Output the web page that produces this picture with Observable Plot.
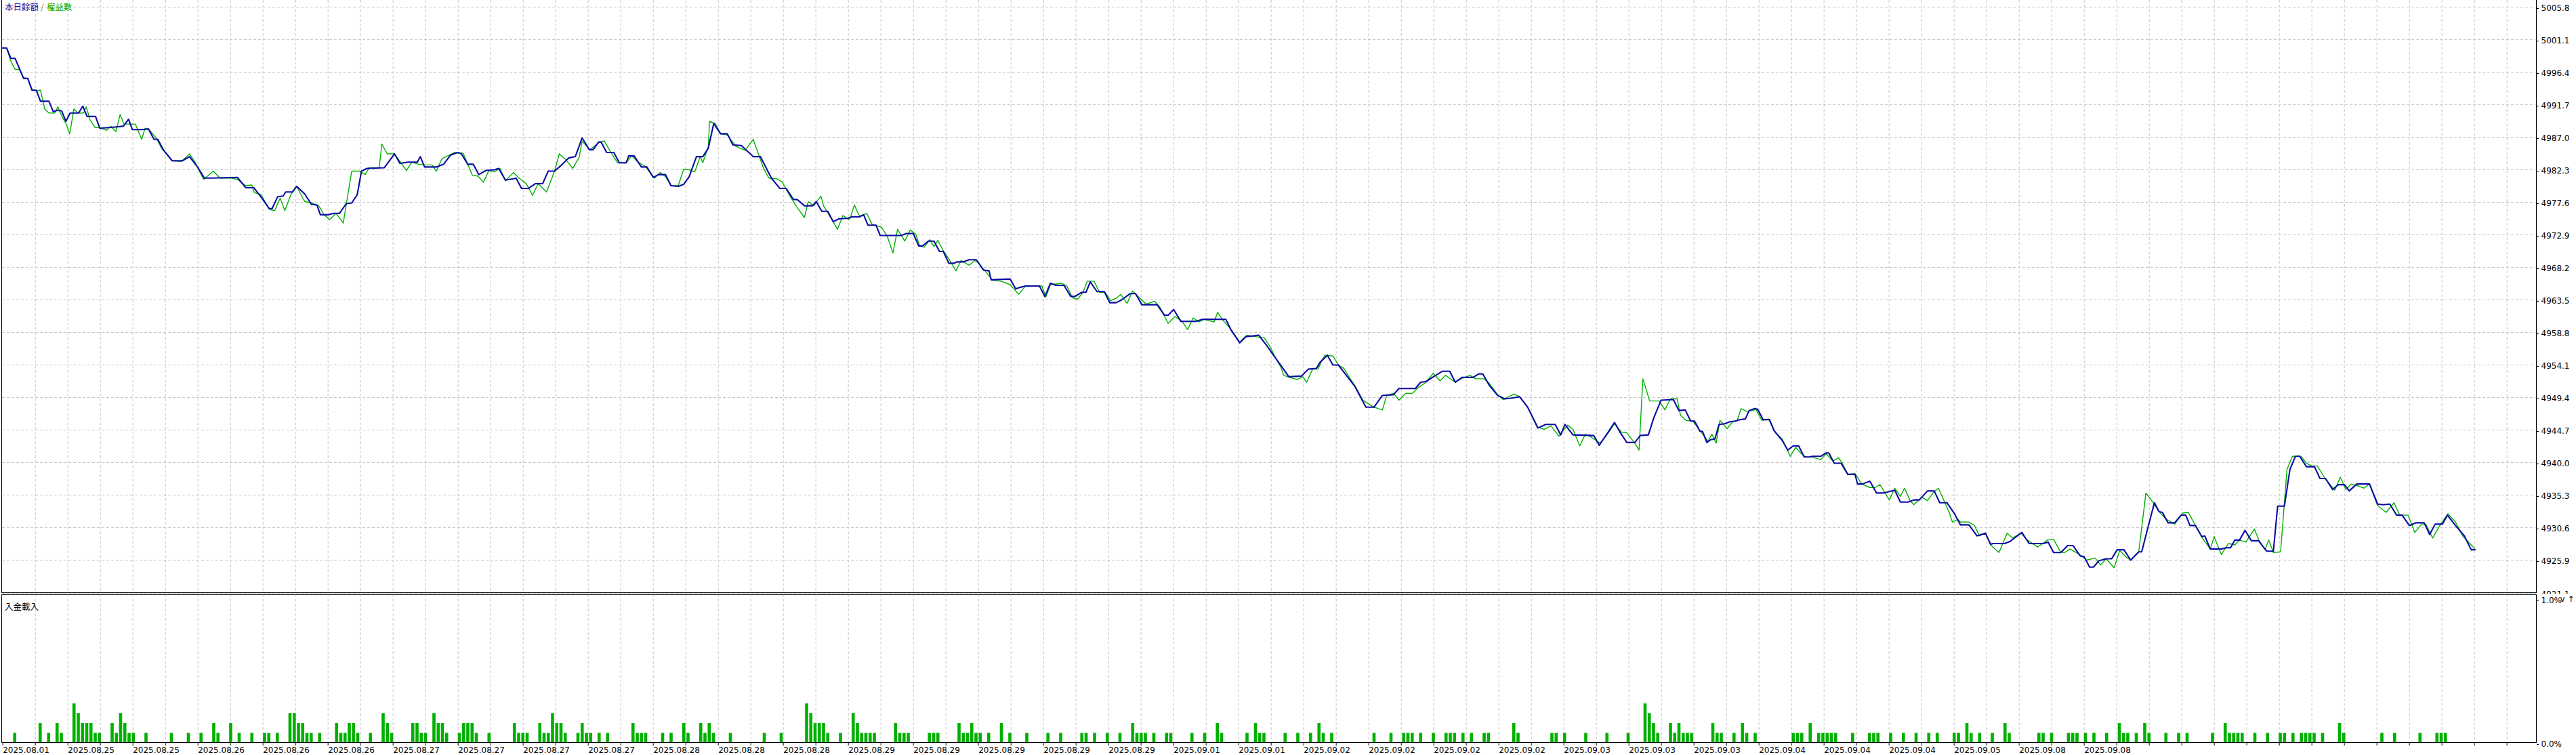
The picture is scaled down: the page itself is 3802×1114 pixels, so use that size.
<!DOCTYPE html>
<html><head><meta charset="utf-8">
<script src="https://cdn.jsdelivr.net/npm/d3@7"></script>
<script src="https://cdn.jsdelivr.net/npm/@observablehq/plot@0.6"></script>
<style>
body{margin:0;background:#fff;}
#wrap{position:relative;width:3802px;height:1114px;overflow:hidden;font-family:"DejaVu Sans",sans-serif;}
#wrap svg{display:block;}
.panel{position:absolute;box-sizing:border-box;border:1px solid #000;pointer-events:none;}
.lbl{position:absolute;white-space:nowrap;font-family:"Noto Sans CJK TC","Noto Sans CJK SC",sans-serif;font-size:12.5px;line-height:14px;height:14px;}
.lbl span{display:inline-block;line-height:14px;height:14px;vertical-align:top;}
</style></head><body>
<div id="wrap"></div>
<script>
// ---- data (trade index, value) ----
const balance = [
[0,4999.9],[1,4999.9],[2,4998.4],[3,4998.4],[5,4995.5],[6,4995.5],[7,4993.8],[8,4993.8],[9,4992.2],[11,4992.2],
[12,4990.7],[13,4990.9],[14,4990.8],[15,4989.3],[16,4990.5],[18,4990.5],[19,4991.5],[20,4990],[22,4990],[23,4988.3],
[25,4988.4],[27,4988.5],[28.6,4988.6],[29.8,4989.6],[30.7,4988.1],[32.9,4988.1],[34.5,4988.2],[35.8,4986.7],[36.7,4986.7],[38.1,4985.1],
[40.1,4983.6],[42.5,4983.6],[44.2,4984.2],[46.2,4982.6],[47.7,4981.1],[49.4,4981.1],[55.5,4981.2],[57.5,4979.7],[59.4,4979.7],[61.3,4978.2],
[63,4976.7],[63.7,4976.7],[65,4978.4],[66.3,4978.5],[66.9,4979.1],[68.5,4979.1],[69.5,4979.9],[71.4,4978.8],[73,4977.3],[74.3,4977.2],
[75.1,4975.8],[76.9,4975.8],[78.3,4976],[79.6,4976],[81.2,4977.4],[82.5,4977.5],[83.8,4978.7],[84.8,4982.1],[86.1,4982.5],[90.2,4982.6],
[92.6,4984.6],[93.9,4983.2],[95.7,4983.4],[98,4983.4],[98.7,4984.2],[99.7,4982.7],[102.5,4982.7],[104.2,4983.1],[105.8,4984.4],[107.5,4984.8],
[108.4,4984.6],[109.9,4983.1],[111.2,4983.1],[112.5,4981.6],[114.2,4982.2],[116.2,4982.3],[117.2,4982.5],[118.8,4980.8],[120.7,4981],[121.3,4981.1],
[122.6,4979.6],[124.2,4979.6],[125.9,4980.3],[127.6,4980.3],[128.9,4982.1],[130.4,4982.1],[131.7,4982.8],[133.7,4984],[135.3,4984.2],[136.9,4986.9],
[138.6,4985.2],[139.5,4985.2],[140.8,4986.3],[141.4,4986.3],[142.7,4984.8],[144.4,4984.8],[145.7,4983.3],[147.3,4983.3],[147.9,4984.3],[149.2,4984.3],
[150.9,4982.7],[152.2,4982.7],[153.7,4981.2],[155,4981.6],[156.6,4981.6],[157.9,4980],[159.6,4979.9],[160.9,4980.2],[162.2,4981.3],[163.9,4984.2],
[165.4,4984.2],[166.7,4985.4],[168,4989],[169.6,4987.5],[171.2,4987.5],[172.5,4985.9],[174.5,4985.8],[177.3,4984.2],[179,4984.2],[181.6,4981.1],
[183.6,4979.6],[185.1,4979.6],[186.8,4978],[187.7,4978],[189.4,4977.1],[191.3,4977.1],[192.2,4977.7],[193.5,4976.3],[194.9,4976.3],[196.2,4974.8],
[197.5,4975.2],[199.7,4975.3],[200.6,4975.5],[202.4,4975.5],[203.4,4975.8],[204.4,4974.3],[206.3,4974.3],[207.3,4972.8],[212.2,4972.8],[213.5,4973.1],
[215.1,4973.1],[216.4,4971.3],[217.3,4971.3],[218.7,4972],[220,4972],[221.3,4970.5],[222.2,4970.5],[223.5,4968.8],[224.8,4968.8],[225.4,4969],
[227,4969],[228.3,4969.3],[230,4969.3],[231.7,4967.8],[233,4967.7],[233.5,4966.4],[237.1,4966.5],[238,4966.5],[239.3,4965.1],[240.3,4965.3],
[241.6,4965.5],[244.9,4965.5],[246.2,4964],[247.5,4965.9],[248.8,4965.6],[250.7,4965.6],[252.3,4964],[253.3,4964],[254.9,4964.6],[255.9,4964.6],
[256.9,4966.1],[258.5,4964.7],[260.2,4964.7],[261.5,4963.1],[263,4963.1],[264.3,4963.5],[266.3,4964.4],[267.6,4964.4],[269.1,4962.8],[272.7,4962.8],
[274.4,4961.3],[275.3,4961.3],[276.6,4962.1],[278.3,4960.4],[281.8,4960.4],[283.5,4960.7],[288.9,4960.7],[290.2,4959.1],[292.2,4957.3],[293.7,4958.2],
[295.4,4958.3],[296.7,4958.4],[298.7,4956.8],[300.4,4955.3],[302.2,4953.8],[303.8,4952.4],[306.8,4952.5],[308.4,4953.5],[310.3,4953.6],[311.2,4954.5],
[312.9,4955.5],[314.2,4954.1],[315.5,4954.1],[317.5,4952.5],[319.4,4951],[322,4948],[323.9,4948],[325.9,4949.7],[328.5,4949.8],[329.8,4950.7],
[333.7,4950.7],[334.9,4951.6],[336.2,4951.7],[338.2,4952.5],[340.1,4953.2],[341.8,4953.2],[343.1,4951.6],[344.7,4952.3],[347.3,4952.3],[348.6,4952.8],
[349.6,4952.8],[351.2,4951.1],[353.1,4949.7],[354.8,4949.2],[356.3,4949.3],[358.3,4949.5],[360.2,4948],[362.6,4945],[364.5,4945.5],[366.7,4945.5],
[368,4944],[369,4945.5],[370.9,4944],[375.8,4943.9],[377.1,4942.5],[379,4944.2],[380.7,4945.8],[382,4944.4],[383.6,4942.9],[385.5,4942.9],
[386.8,4943.9],[388.7,4944],[390,4946.5],[391.7,4949],[394.6,4949.1],[395.9,4947.5],[397.4,4947.6],[398.7,4946],[399.6,4946],[400.9,4944.5],
[401.5,4944.5],[402.5,4942.9],[403.4,4943.3],[404.4,4943.4],[405.4,4945.5],[406.7,4945.6],[408,4945.9],[409.3,4946],[410.3,4946.2],[411.6,4946.3],
[412.5,4947.5],[413.8,4947.8],[414.5,4947.7],[415.8,4946.2],[417.3,4946.2],[418.4,4944.6],[420.3,4943.2],[421.6,4941.8],[422.9,4942.4],[424.2,4942.4],
[425.5,4940.8],[426.8,4940.8],[427.4,4940.9],[429.4,4940.9],[430.7,4941.4],[431.3,4941.4],[432.6,4939.9],[434.2,4939.9],[435.8,4938.3],[437.5,4938.3],
[438.1,4936.9],[439.3,4936.9],[441,4937.3],[442.6,4935.6],[444.3,4935.6],[446.2,4935.9],[446.9,4936],[448.2,4934.3],[450.1,4934.3],[451.4,4934.6],
[452.7,4934.6],[454.6,4935.9],[456.2,4935.9],[457.5,4934.2],[459.2,4934.2],[460.9,4932.7],[462.4,4931],[464.4,4931],[466.3,4929.4],[468.3,4929.8],
[469.5,4928.2],[470.2,4928.3],[472.8,4928.3],[474.1,4928.6],[475.6,4929.3],[476.9,4929.9],[478.6,4928.3],[481.9,4928.3],[483.1,4928.5],[484.4,4927],
[486.1,4927],[487.7,4928],[489,4928],[490.7,4926.5],[491.6,4926.4],[492.9,4924.9],[493.8,4924.9],[495.1,4925.8],[496.8,4926.1],[498.1,4926.1],
[499.4,4927.4],[501,4927.4],[502.6,4925.9],[504.5,4927.1],[505.2,4927.1],[506.5,4930.2],[508.2,4934.2],[509.3,4932.9],[510.1,4932.8],[511.4,4931.3],
[513,4931.3],[514.5,4932.4],[515.6,4932.4],[516.6,4930.9],[517.9,4930.9],[519.4,4929.3],[520.1,4929.4],[521.4,4927.5],[524,4927.5],[525.3,4927.7],
[526.2,4927.7],[527.2,4928.8],[528.3,4928.8],[529.6,4930.2],[531.1,4928.7],[532.8,4928.7],[534.7,4927.2],[536.3,4927.2],[537.3,4933.7],[538.9,4933.7],
[540.2,4939],[541.5,4940.9],[542.5,4940.9],[544.1,4939.4],[546,4939.4],[547.3,4937.7],[548.6,4937.7],[550.3,4936.1],[551.6,4936.8],[553.1,4936.8],
[554.2,4935.9],[556,4936.9],[559,4936.9],[560.9,4934],[562.2,4933.9],[563.8,4934],[565.4,4932.4],[566.7,4932.4],[568.4,4930.9],[570,4931.3],
[571.9,4931.3],[573.2,4929.6],[574.5,4931.1],[576.2,4931.1],[577.4,4932.4],[579.3,4930.9],[581.4,4929.4],[583,4927.4],[583.9,4927.4]
];
const equity = [
[0,4999.9],[1,4999.9],[2,4998],[3,4996.8],[4,4996.8],[5,4995.6],[6,4995.5],[7,4993.9],[8,4993.7],[9,4993.8],
[10,4991.1],[11,4990.5],[12.4,4990.5],[13.1,4991.4],[14,4990.1],[15,4989],[15.9,4987.5],[16.9,4991.1],[17.8,4990.5],[19.2,4990.5],
[19.8,4991.4],[20.7,4989.5],[21.9,4988.4],[23,4988.4],[24.6,4988],[25.6,4988.6],[26.8,4987.8],[27.8,4990.3],[28.7,4988.9],[31.4,4988.9],
[32.9,4986.7],[33.7,4988.3],[34.5,4988.2],[36.3,4986.9],[37.7,4985.3],[38.1,4985.1],[40.1,4983.6],[42.3,4983.5],[44.2,4984.6],[45.5,4983.4],
[47.5,4980.9],[49.8,4982.1],[51.4,4981.1],[54,4981.1],[55.5,4980.9],[57.5,4980],[58.9,4980.1],[59.5,4979],[61.1,4978.7],[63,4976.6],
[64.3,4976.4],[65.6,4978.2],[66.7,4976.4],[68.2,4978.8],[69.5,4979.9],[71.4,4977.7],[73,4977.5],[74.7,4977.1],[76,4975.8],[77.3,4975.1],
[78.8,4976],[80.5,4974.6],[82.5,4982.1],[84.4,4982.1],[85.7,4981.6],[86.6,4982.6],[89,4982.6],[89.6,4986],[90.9,4984.6],[92.6,4984.6],
[95.4,4982.2],[96.7,4983.4],[98.3,4983.1],[99.9,4983],[101.5,4983],[102.5,4982.1],[103.8,4983.9],[105.1,4984.3],[106.8,4984.8],[108.8,4984.7],
[111,4981.5],[112.3,4981.4],[113.6,4980.5],[114.9,4982.2],[116.2,4982],[117.5,4982.5],[118.8,4980.7],[120.7,4981.9],[122,4981.1],[123.7,4980.3],
[125.2,4978.6],[126.5,4980.3],[128.5,4979.1],[130.4,4982.1],[131.5,4984.6],[133,4983.8],[134.7,4982.5],[136.2,4984.1],[136.9,4986.4],[138.8,4985.2],
[140.8,4986.2],[142.1,4986.5],[143.6,4984.9],[145.3,4983.3],[147.3,4983.3],[148.6,4984.3],[150.1,4983.4],[151.8,4982.8],[154,4981.1],[155.3,4981.9],
[156.6,4981.3],[157.9,4980],[159.6,4980],[160.9,4982.4],[162.2,4982.3],[163.5,4982],[164.8,4984.2],[165.4,4983.3],[166.7,4985.6],[167,4989.3],
[168.3,4989],[169.6,4987.5],[171.2,4987.3],[173.2,4985.7],[175.4,4985.1],[177.3,4986.7],[179.7,4982.6],[181,4981.1],[182.9,4981],[184.2,4980.5],
[185.8,4978.7],[187.4,4977.1],[189.4,4975.4],[190.3,4977.7],[191.6,4977.1],[193.3,4978.5],[193.9,4977.1],[195.9,4975.1],[197.2,4973.7],[198.5,4975.7],
[199.8,4975.1],[200.2,4975.3],[201.2,4977.2],[202.4,4975.6],[204.1,4976],[205.4,4974.4],[207.6,4974],[208.9,4972.8],[210.3,4970.3],[211.4,4973.7],
[213.1,4972],[214.4,4973.6],[215.7,4973],[216.6,4971.3],[217.7,4971.1],[219,4972.2],[220,4971.2],[220.9,4972.1],[222.2,4970.6],[223.5,4969.4],
[225.2,4967.7],[226.4,4969.2],[228.3,4968.5],[229.6,4969.2],[230.6,4968.8],[231.9,4967.8],[233.9,4966.3],[235.8,4966.2],[238,4965.7],[240,4964.3],
[241.6,4965.5],[245.5,4965.5],[246.4,4963.9],[247.5,4965.7],[250.1,4965.9],[251.4,4965.5],[252.7,4963.8],[253.9,4963.6],[255.2,4964.6],[256.2,4966.2],
[257.8,4966.2],[259.1,4964.6],[260.4,4964.6],[261.7,4963.4],[263,4963.7],[264.1,4964.3],[265.6,4963],[266.9,4964.8],[268.2,4964],[270.1,4962.9],
[272.1,4963.3],[273.4,4962.4],[275.3,4960.1],[276.9,4961.1],[278.6,4960.4],[279.9,4959.2],[281.2,4960.9],[282.5,4960.3],[283.8,4960.7],[286.1,4960.3],
[287,4961.7],[288.3,4960.5],[290.2,4959.2],[292.2,4957.4],[293.9,4958.4],[298,4958],[299.3,4956.8],[300.6,4955.2],[301.9,4953.8],[302.6,4952.6],
[304.5,4952.2],[305.8,4952],[307.1,4952.4],[308,4951.6],[309.4,4953.5],[310.7,4953.5],[311.7,4954.9],[312.3,4955.5],[314.2,4955.4],[315.5,4954.1],
[316.8,4953.6],[318.1,4952.3],[319.4,4951.1],[321.3,4949],[323.9,4948],[325.9,4947.6],[326.9,4949.7],[328.5,4950],[329.8,4949],[331.4,4950],
[333,4950],[334.3,4950.8],[336.2,4951.6],[337.9,4952.9],[339.5,4951.8],[340.8,4952.6],[343.1,4951.6],[344.4,4952.1],[346.6,4952.6],[347.9,4952.1],
[349.9,4952.1],[351.2,4951.4],[353.1,4949.8],[354.4,4949.1],[357,4949.9],[358.3,4949.5],[360.2,4948],[362.6,4945.1],[364.1,4944.8],[365.7,4945.3],
[367.6,4943.8],[369.6,4945.4],[370.9,4944.8],[372.5,4942.4],[373.8,4944.1],[375.4,4943.6],[377.3,4942.8],[379,4944.1],[380.7,4945.6],[382.3,4944.4],
[383.6,4944.3],[385.5,4942.8],[386.5,4941.8],[387.4,4952.1],[389,4948.9],[391.3,4948.9],[392.6,4947.6],[393.9,4949.2],[395.5,4949.2],[396.3,4946.8],
[397.6,4946.1],[399.2,4946],[400.9,4944.6],[402.8,4943.1],[403.7,4944.1],[404.7,4942.8],[405.6,4946.1],[407.3,4944.9],[408.6,4945.9],[409.7,4946.1],
[410.6,4947.8],[411.9,4947.4],[413.2,4947.5],[414.1,4947.7],[415.5,4946.1],[417.1,4946.3],[418.6,4944.4],[420.3,4943.4],[422.2,4940.9],[423.5,4942.2],
[424.8,4941.3],[425.9,4940.8],[427.4,4940.8],[429.4,4940.4],[430.7,4941.3],[432.3,4940.2],[433.6,4940.7],[434.5,4939.9],[435.8,4938.3],[437.5,4938.4],
[439.1,4936.9],[441,4936.4],[442.3,4936.4],[443.4,4936.8],[445.6,4934.6],[446.9,4936.3],[448.2,4935.1],[449.2,4936.3],[450.5,4934.5],[451.4,4933.9],
[453.3,4935],[454.6,4934.5],[456.2,4935.8],[457.2,4936.3],[459.8,4932.7],[460.5,4931.4],[461.8,4931.8],[462.4,4931.4],[464.4,4931.4],[465.7,4930.9],
[466.9,4929.4],[468.3,4929.8],[469.5,4928.1],[471.5,4927],[473.4,4929.8],[474.7,4929.1],[476.7,4929.8],[478.2,4928.8],[480.6,4927.8],[481.9,4928.3],
[482.9,4928.8],[484.4,4928.9],[486,4927.1],[487,4927],[488.3,4927.5],[490.3,4926.8],[492.2,4925.9],[494.2,4926.2],[495.5,4925.2],[496.8,4926.1],
[498.7,4924.8],[500,4927.3],[501.6,4926.3],[502.6,4925.9],[504.5,4927.1],[506.2,4935.6],[507.8,4934.3],[509.3,4932.9],[511,4931.8],[513,4931.1],
[514.9,4932.7],[516.2,4932.8],[517.9,4930.9],[519.4,4929.2],[521.4,4927.5],[522.3,4929.3],[524,4926.7],[525.7,4928.3],[527.2,4928.1],[528.3,4928.8],
[529.8,4928.5],[531.8,4930.4],[533,4928.6],[534.3,4927.4],[535.2,4928.8],[536.3,4927],[538,4927.1],[539.5,4939],[540.8,4940.9],[542.8,4940.9],
[544.1,4939.9],[545.4,4939.5],[546.7,4939.5],[548.6,4937.6],[550.8,4936],[552.1,4937.9],[553.4,4936.1],[554.7,4936.9],[556.4,4936.6],[557.7,4936.3],
[559,4936.9],[560.9,4933.8],[562.9,4932.8],[564.8,4934.2],[566.1,4932.4],[568.1,4932.4],[569.7,4929.9],[571.3,4931.1],[572.3,4931.1],[573.9,4929.1],
[575.4,4930.7],[577.5,4932.6],[579.3,4931.4],[581,4929.4],[583,4928.1],[583.9,4927.5]
];
// deposit load bars: trade index and load (%)
const loadIndex = [3,9,11,13,14,17,18,19,20,21,22,23,26,27,28,29,30,31,34,40,44,47,50,51,54,56,59,62,63,65,68,69,70,71,72,73,75,79,80,81,82,83,84,87,90,91,92,97,98,99,100,102,103,104,105,108,109,110,111,112,115,121,122,123,124,127,128,129,130,131,132,133,136,137,138,139,141,143,149,150,151,152,156,158,161,162,165,166,167,168,172,180,184,190,191,192,193,194,195,198,201,202,203,204,205,206,
211,212,213,214,219,220,221,226,227,228,229,230,231,233,236,238,242,247,250,255,256,258,261,264,267,268,269,270,272,275,276,281,284,287,288,294,296,297,298,303,306,309,311,312,314,324,328,331,332,333,335,338,341,342,343,345,347,350,351,357,358,366,367,369,374,379,384,388,389,390,391,394,395,396,397,398,399,404,405,406,409,411,412,414,
423,424,425,427,429,430,431,432,433,437,441,442,443,446,449,452,455,457,461,462,464,465,467,470,473,474,481,482,484,488,489,490,492,494,497,500,501,502,504,506,507,511,514,516,522,525,526,527,528,529,532,535,538,539,541,543,544,545,546,548,552,553,562,565,571,575,576,577];
const loadPct = [0.069,0.137,0.069,0.137,0.069,0.274,0.206,0.137,0.137,0.137,0.069,0.069,0.137,0.069,0.206,0.137,0.069,0.069,0.069,0.069,0.069,0.069,0.137,0.069,0.137,0.069,0.069,0.069,0.069,0.069,0.206,0.206,0.137,0.137,0.069,0.069,0.069,0.137,0.069,0.069,0.137,0.137,0.069,0.069,0.206,0.137,0.069,0.137,0.137,0.069,0.069,0.206,0.137,0.137,0.069,0.069,0.137,0.137,0.137,0.069,0.069,0.137,0.069,0.069,0.069,0.137,0.069,0.069,0.206,0.137,0.137,0.069,0.069,0.137,0.069,0.069,0.069,0.069,0.137,0.069,0.069,0.069,0.069,0.069,0.137,0.069,0.137,0.069,0.137,0.069,0.069,0.069,0.069,0.274,0.206,0.137,0.137,0.137,0.069,0.069,0.206,0.137,0.069,0.069,0.069,0.069,
0.137,0.069,0.069,0.069,0.069,0.069,0.069,0.137,0.069,0.069,0.137,0.069,0.069,0.069,0.137,0.069,0.069,0.069,0.069,0.069,0.069,0.069,0.069,0.069,0.137,0.069,0.069,0.069,0.069,0.069,0.069,0.069,0.069,0.137,0.069,0.069,0.137,0.069,0.069,0.069,0.069,0.069,0.137,0.069,0.069,0.069,0.069,0.069,0.069,0.069,0.069,0.069,0.069,0.069,0.069,0.069,0.069,0.069,0.069,0.137,0.069,0.069,0.069,0.069,0.069,0.069,0.069,0.274,0.206,0.137,0.069,0.137,0.069,0.137,0.069,0.069,0.069,0.137,0.069,0.069,0.069,0.137,0.069,0.069,
0.069,0.069,0.069,0.137,0.069,0.069,0.069,0.069,0.069,0.069,0.069,0.069,0.069,0.069,0.069,0.069,0.069,0.069,0.069,0.069,0.137,0.069,0.069,0.069,0.137,0.069,0.069,0.069,0.069,0.069,0.069,0.069,0.069,0.069,0.069,0.137,0.069,0.069,0.069,0.137,0.069,0.069,0.069,0.069,0.069,0.137,0.069,0.069,0.069,0.069,0.069,0.069,0.069,0.069,0.069,0.069,0.069,0.069,0.069,0.069,0.137,0.069,0.069,0.069,0.069,0.069,0.069,0.069];
const yTicks = [5005.8,5001.1,4996.4,4991.7,4987.0,4982.3,4977.6,4972.9,4968.2,4963.5,4958.8,4954.1,4949.4,4944.7,4940.0,4935.3,4930.6,4925.9,4921.1];
const pctTicks = [0, 1.0];
const dateLabels = ["2025.08.01","2025.08.25","2025.08.25","2025.08.26","2025.08.26","2025.08.26","2025.08.27","2025.08.27","2025.08.27","2025.08.27",
"2025.08.28","2025.08.28","2025.08.28","2025.08.29","2025.08.29","2025.08.29","2025.08.29","2025.08.29","2025.09.01","2025.09.01",
"2025.09.02","2025.09.02","2025.09.02","2025.09.02","2025.09.03","2025.09.03","2025.09.03","2025.09.04","2025.09.04","2025.09.04",
"2025.09.05","2025.09.08","2025.09.08"];
const legendParts = ["本日餘額", "/", "權益數"];
const subTitle = "入金載入";

// ---- layout helpers ----
const W = 3802;
const XMAX = 598.4;            // x extent of the panel, in trade-index units
const STEP = 7.68, OFF = 0.107; // grid step of the tester's time axis
const allTicks = d3.range(0, 78).map(k => OFF + STEP * k);
const gridIdx = allTicks.slice(1);
const labelData = dateLabels.map((label, k) => ({i: OFF + 2 * STEP * k, label}));
const bars = loadIndex.map((i, k) => ({i, v: loadPct[k]}));

const GREEN = "#00b000", BLUE = "#0a0aa6", GRID = "#c6c6c6";
const styleBase = {background: "white", fontFamily: "DejaVu Sans, sans-serif", fontSize: "12px", color: "black", overflow: "hidden"};

const topPlot = Plot.plot({
  width: W, height: 876,
  marginLeft: 3, marginRight: 59, marginTop: 0, marginBottom: 1,
  x: {domain: [0, XMAX]},
  y: {domain: [4921.1, 5006.78]},
  style: styleBase,
  marks: [
    Plot.ruleY(yTicks, {stroke: GRID, strokeDasharray: "4,3"}),
    Plot.ruleX(gridIdx, {stroke: GRID, strokeDasharray: "4,3"}),
    Plot.line(equity, {x: d => d[0], y: d => d[1], stroke: GREEN, strokeWidth: 1.4}),
    Plot.line(balance, {x: d => d[0], y: d => d[1], stroke: BLUE, strokeWidth: 2.1}),
    Plot.axisY(yTicks, {anchor: "right", tickSize: 3, tickPadding: 4, dy: 2, tickFormat: d => d.toFixed(1), fontSize: 12}),
    Plot.axisX({ticks: [], label: null, tickSize: 0})
  ]
});

const botPlot = Plot.plot({
  width: W, height: 238,
  marginLeft: 3, marginRight: 59, marginTop: 1, marginBottom: 18,
  x: {domain: [0, XMAX]},
  y: {domain: [0, 1.03]},
  style: styleBase,
  marks: [
    Plot.ruleX(gridIdx, {stroke: GRID, strokeDasharray: "4,3"}),
    Plot.rect(bars, {x1: d => d.i - 0.37, x2: d => d.i + 0.37, y1: 0, y2: "v", fill: GREEN}),
    Plot.axisY(pctTicks, {anchor: "right", tickSize: 3, tickPadding: 4, dy: 2, tickFormat: d => d.toFixed(1) + "%", fontSize: 12}),
    Plot.axisX(allTicks, {anchor: "bottom", tickSize: 4, tickFormat: () => "", label: null}),
    Plot.text(labelData, {x: "i", y: 0, text: "label", textAnchor: "start", lineAnchor: "middle", dy: 11, fontSize: 12, fill: "black"})
  ]
});

const wrap = document.getElementById("wrap");
wrap.appendChild(topPlot);
wrap.appendChild(botPlot);

function addDiv(css, html, cls) {
  const d = document.createElement("div");
  d.className = cls;
  d.style.cssText = css;
  if (html) d.innerHTML = html;
  wrap.appendChild(d);
  return d;
}
// panel borders
addDiv("left:2px;top:-1px;width:3742px;height:876px;", "", "panel");
addDiv("left:2px;top:877px;width:3742px;height:219px;", "", "panel");
// legend and sub-panel title
addDiv("left:7px;top:3px;", `<span style="color:#10109a">${legendParts[0]}</span><span style="color:#c86a1e;padding:0 4px 0 3px">${legendParts[1]}</span><span style="color:#00a800">${legendParts[2]}</span>`, "lbl");
addDiv("left:7px;top:888px;color:#000;", `<span>${subTitle}</span>`, "lbl");
</script>
</body></html>
